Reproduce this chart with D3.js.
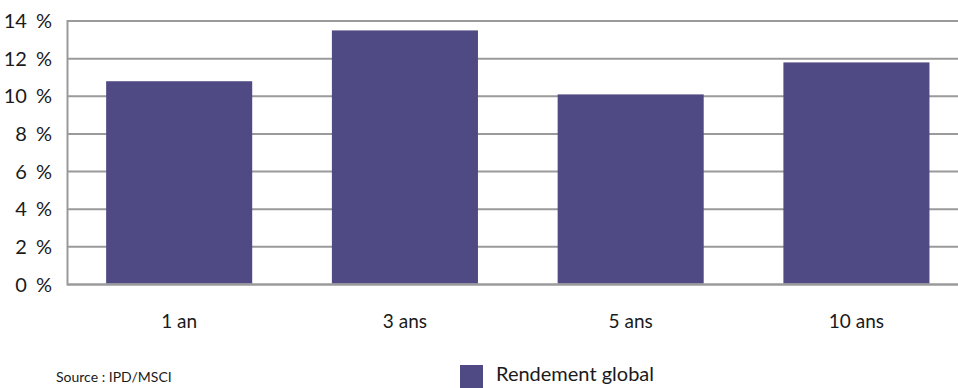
<!DOCTYPE html>
<html>
<head>
<meta charset="utf-8">
<script src="https://cdn.jsdelivr.net/npm/d3@7"></script>
<style>
  html, body { margin: 0; padding: 0; background: #fff; }
  svg { display: block; }
  text { font-family: Lato, "Open Sans", sans-serif; fill: #1a1a1a; }
</style>
</head>
<body>
<svg id="chart" width="958" height="388"></svg>
<script>
const categories = ["1 an", "3 ans", "5 ans", "10 ans"];
const values = [10.8, 13.5, 10.1, 11.8];
const yTicks = [0, 2, 4, 6, 8, 10, 12, 14];
const seriesName = "Rendement global";
const sourceText = "Source : IPD/MSCI";

const svg = d3.select("#chart");
const barColor = "#4f4a83";
const gridColor = "#9a9a9a";

const plotLeft = 67.5, plotRight = 958, plotTop = 21, plotBottom = 284.5;

const y = d3.scaleLinear().domain([0, 14]).range([plotBottom, plotTop]);
const x = d3.scaleBand().domain(categories).range([66.3, 969.3])
  .paddingInner(0.353).paddingOuter(0.1765);

// gridlines
svg.append("g").selectAll("line").data(yTicks).join("line")
  .attr("x1", plotLeft).attr("x2", plotRight)
  .attr("y1", d => y(d)).attr("y2", d => y(d))
  .attr("stroke", gridColor).attr("stroke-width", 2);

// left axis line
svg.append("line")
  .attr("x1", plotLeft).attr("x2", plotLeft)
  .attr("y1", y(14) - 1).attr("y2", y(0) + 1)
  .attr("stroke", gridColor).attr("stroke-width", 2);

// y tick labels
svg.append("g").selectAll("text").data(yTicks).join("text")
  .attr("x", 52).attr("y", d => y(d) + 7)
  .attr("text-anchor", "end")
  .attr("font-size", 20)
  .attr("word-spacing", 4)
  .text(d => d + " %");

// bars
svg.append("g").selectAll("rect").data(values).join("rect")
  .attr("x", (d, i) => x(categories[i]))
  .attr("width", x.bandwidth())
  .attr("y", d => y(d))
  .attr("height", d => y(0) - y(d) - 1)
  .attr("fill", barColor);

// baseline redraw
svg.append("line")
  .attr("x1", plotLeft).attr("x2", plotRight)
  .attr("y1", y(0)).attr("y2", y(0))
  .attr("stroke", gridColor).attr("stroke-width", 2);

// x labels
svg.append("g").selectAll("text").data(categories).join("text")
  .attr("x", d => x(d) + x.bandwidth() / 2)
  .attr("y", 328)
  .attr("text-anchor", "middle")
  .attr("font-size", 19)
  .text(d => d);

// source
svg.append("text")
  .attr("x", 56).attr("y", 382)
  .attr("font-size", 14)
  .text(sourceText);

// legend
svg.append("rect")
  .attr("x", 460).attr("y", 365).attr("width", 23).attr("height", 23)
  .attr("fill", barColor);
svg.append("text")
  .attr("x", 496).attr("y", 381)
  .attr("font-size", 20)
  .text(seriesName);
</script>
</body>
</html>
